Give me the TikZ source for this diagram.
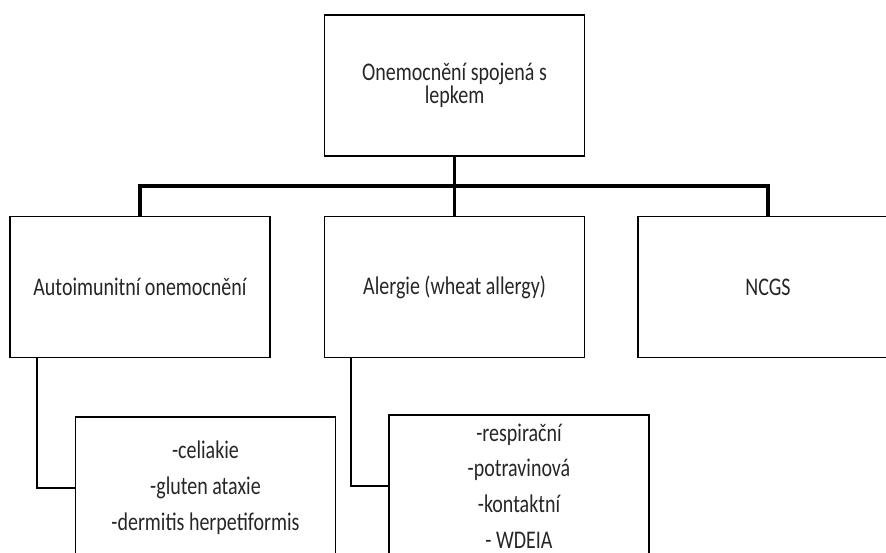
\documentclass[tikz,border=0pt]{standalone}
\usepackage{fontspec}
\setmainfont{Carlito}
\usepackage{graphicx}
\newcommand{\vysoky}[2][18.5]{\scalebox{1}[1.27]{\parbox{250pt}{\centering\fontsize{20}{#1}\selectfont\lineskiplimit=-100pt #2}}}

\begin{document}
\begin{tikzpicture}[x=1pt,y=-1pt,
    box/.style={draw=black, line width=1.8pt, minimum width=260pt, minimum height=141pt, inner sep=0pt, text=black!85},
    spoj/.style={line width=3.5pt},
    bocni/.style={line width=2.4pt}]
    \useasboundingbox (0,0) rectangle (886,553);

    % hlavni box
    \node[box] (lepek) at (454.5,85.5) {\vysoky{Onemocnění spojená s\\ lepkem}};

    % druha rada
    \node[box] (auto) at (140,287) {\vysoky{Autoimunitní onemocnění}};
    \node[box] (alergie) at (454.5,287) {\vysoky{Alergie (wheat allergy)}};
    \node[box] (ncgs) at (768,287) {\vysoky{NCGS}};

    % treti rada (dole oriznuta)
    \node[box, minimum height=142pt] (nemoci) at (205.5,488) {\vysoky[28.3]{-celiakie\\ -gluten ataxie\\ -dermitis herpetiformis}};
    \node[box, minimum height=142pt] (typy) at (519,486) {\vysoky[28]{-respirační\\ -potravinová\\ -kontaktní\\ - WDEIA}};

    % spojnice
    \coordinate (lista) at (454.5,186);
    \draw[spoj] (lepek.south) -- (alergie.north);
    \draw[spoj] (auto.north) -- (auto.north |- lista) -- (ncgs.north |- lista) -- (ncgs.north);
    \draw[bocni] ([xshift=-103pt]auto.south) |- (nemoci.west);
    \draw[bocni] ([xshift=-103.5pt]alergie.south) |- (typy.west);
\end{tikzpicture}
\end{document}
